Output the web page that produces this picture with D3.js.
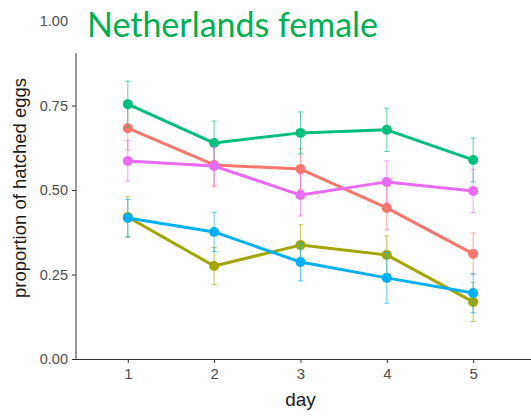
<!DOCTYPE html>
<html>
<head>
<meta charset="utf-8">
<script src="https://cdn.jsdelivr.net/npm/d3@7"></script>
<style>
  html, body { margin: 0; padding: 0; background: #fff; }
  svg { display: block; }
</style>
</head>
<body>
<svg id="chart" width="531" height="417"></svg>
<script>
// Hatching success per day, five groups
const days = [1, 2, 3, 4, 5];
const groups = ["A", "B", "C", "D", "E"];
const colors = ["#F8766D", "#A3A500", "#00BF7D", "#00B0F6", "#E76BF3"];

const meansA = [0.683, 0.574, 0.562, 0.447, 0.311];
const meansB = [0.420, 0.275, 0.337, 0.308, 0.169];
const meansC = [0.754, 0.639, 0.669, 0.678, 0.589];
const meansD = [0.417, 0.376, 0.287, 0.240, 0.195];
const meansE = [0.586, 0.571, 0.485, 0.524, 0.497];

const seA = [0.065, 0.065, 0.060, 0.065, 0.062];
const seB = [0.060, 0.055, 0.060, 0.056, 0.058];
const seC = [0.068, 0.065, 0.062, 0.064, 0.065];
const seD = [0.055, 0.058, 0.056, 0.075, 0.058];
const seE = [0.060, 0.057, 0.062, 0.062, 0.064];

const yTicks = [0, 0.25, 0.5, 0.75, 1.0];
const titleText = "Netherlands female";

const means = [meansA, meansB, meansC, meansD, meansE];
const ses = [seA, seB, seC, seD, seE];

const series = groups.map((g, i) => ({
  key: g,
  color: colors[i],
  values: days.map((d, j) => ({ day: d, mean: means[i][j], se: ses[i][j] }))
}));

const svg = d3.select("#chart");
const plot = { left: 76, right: 531, top: 21, bottom: 359 };

const x = d3.scaleLinear().domain([0.4, 5.67]).range([plot.left, plot.right]);
const y = d3.scaleLinear().domain([0, 1]).range([plot.bottom, plot.top]);

const tickColor = "#4D4D4D";
const axisFont = "'Liberation Sans', Arial, sans-serif";

// y axis
const yAxis = svg.append("g")
  .attr("transform", `translate(${plot.left},0)`)
  .call(d3.axisLeft(y).tickValues(yTicks).tickFormat(d3.format(".2f")).tickSize(4).tickPadding(4));
yAxis.select(".domain").remove();
yAxis.selectAll(".tick line").attr("stroke", "#333").attr("stroke-width", 1)
  .filter(d => d === 1).remove();
yAxis.selectAll(".tick text").attr("fill", tickColor)
  .style("font-family", axisFont).style("font-size", "14.5px");
svg.append("line")
  .attr("x1", plot.left).attr("x2", plot.left)
  .attr("y1", y(0)).attr("y2", y(0.905))
  .attr("stroke", "#333").attr("stroke-width", 1);

// x axis
const xAxis = svg.append("g")
  .attr("transform", `translate(0,${plot.bottom})`)
  .call(d3.axisBottom(x).tickValues(days).tickFormat(d3.format("d")).tickSize(4).tickPadding(5));
xAxis.select(".domain").attr("stroke", "#333").attr("d", `M${plot.left},0.5H${plot.right}`);
xAxis.selectAll(".tick line").attr("stroke", "#333");
xAxis.selectAll(".tick text").attr("fill", tickColor)
  .style("font-family", axisFont).style("font-size", "15px");

// axis titles
svg.append("text")
  .attr("x", x(3)).attr("y", 406)
  .attr("text-anchor", "middle")
  .style("font-family", axisFont).style("font-size", "19px")
  .attr("fill", "#1a1a1a")
  .text("day");

svg.append("text")
  .attr("transform", `translate(26,188) rotate(-90)`)
  .attr("text-anchor", "middle")
  .style("font-family", axisFont).style("font-size", "18.5px")
  .attr("fill", "#1a1a1a")
  .text("proportion of hatched eggs");

// series
const line = d3.line().x(d => x(d.day)).y(d => y(d.mean));

const g = svg.append("g");
series.forEach(s => {
  const sg = g.append("g");
  // error bars
  s.values.forEach(v => {
    const cx = x(v.day);
    const y1 = y(v.mean - v.se), y2 = y(v.mean + v.se);
    sg.append("line").attr("x1", cx).attr("x2", cx).attr("y1", y1).attr("y2", y2)
      .attr("stroke", s.color).attr("stroke-opacity", 0.65).attr("stroke-width", 1);
    [y1, y2].forEach(yy => sg.append("line")
      .attr("x1", cx - 2.5).attr("x2", cx + 2.5).attr("y1", yy).attr("y2", yy)
      .attr("stroke", s.color).attr("stroke-opacity", 0.65).attr("stroke-width", 1));
  });
  sg.append("path").datum(s.values)
    .attr("d", line).attr("fill", "none")
    .attr("stroke", s.color).attr("stroke-width", 3)
    .attr("stroke-linejoin", "round");
  sg.selectAll("circle").data(s.values).join("circle")
    .attr("cx", d => x(d.day)).attr("cy", d => y(d.mean)).attr("r", 5)
    .attr("fill", s.color);
});

// title
svg.append("text")
  .attr("x", 87).attr("y", 37)
  .attr("textLength", 291).attr("lengthAdjust", "spacingAndGlyphs")
  .style("font-family", "Lato, 'Open Sans', sans-serif").style("font-size", "34px")
  .attr("fill", "#00B050")
  .text(titleText);
</script>
</body>
</html>
